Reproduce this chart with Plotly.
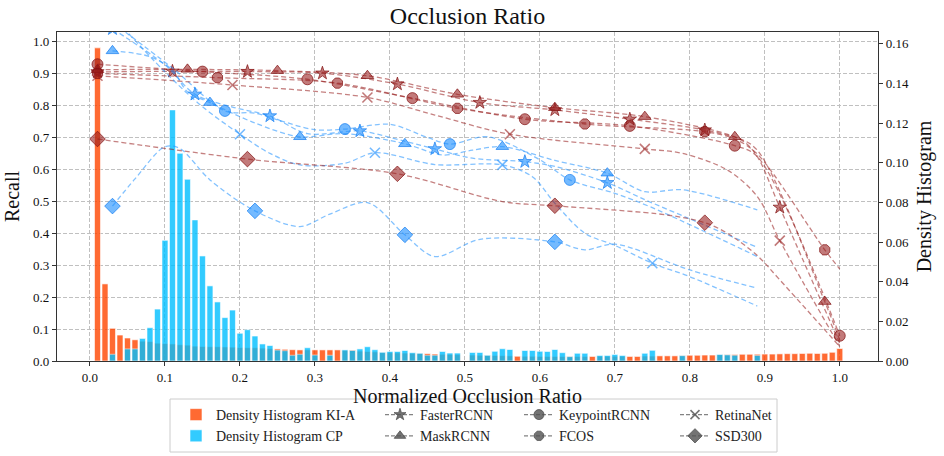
import plotly.graph_objects as go

FONT = "Liberation Serif, Times New Roman, serif"

# ---------------------------------------------------------------
# Density histograms (bin centres 0.01 ... 1.00, width 0.01)
# ---------------------------------------------------------------
bin_centres = [round(0.01 * k, 2) for k in range(1, 101)]

density_kia = [
    0.158, 0.0389, 0.0165, 0.0131, 0.0116, 0.0107, 0.0100, 0.0098, 0.0090, 0.0088,
    0.0086, 0.0082, 0.0080, 0.0075, 0.0073, 0.0072, 0.0072, 0.0071, 0.0070, 0.0068,
    0.0067, 0.0067, 0.0065, 0.0063, 0.0061, 0.0059, 0.0057, 0.0056, 0.0056, 0.0056,
    0.0056, 0.0056, 0.0056, 0.0054, 0.0055, 0.0050, 0.0048, 0.0046, 0.0042, 0.0042,
    0.0041, 0.0040, 0.0039, 0.0038, 0.0037, 0.0035, 0.0034, 0.0033, 0.0032, 0.0,
    0.0030, 0.0029, 0.0028, 0.0028, 0.0027, 0.0026, 0.0024, 0.0024, 0.0024, 0.0023,
    0.0023, 0.0023, 0.0023, 0.0023, 0.0023, 0.0023, 0.0023, 0.0024, 0.0024, 0.0024,
    0.0024, 0.0023, 0.0023, 0.0025, 0.0025, 0.0026, 0.0026, 0.0026, 0.0027, 0.0029,
    0.0029, 0.0030, 0.0030, 0.0031, 0.0032, 0.0033, 0.0034, 0.0034, 0.0034, 0.0035,
    0.0035, 0.0036, 0.0037, 0.0037, 0.0038, 0.0039, 0.0038, 0.0039, 0.0044, 0.0063,
]

density_cp = [
    0.0, 0.0, 0.0034, 0.0, 0.0061, 0.0061, 0.0114, 0.0168, 0.0262, 0.0609,
    0.1267, 0.1048, 0.0917, 0.0712, 0.0530, 0.0379, 0.0298, 0.0219, 0.0257, 0.0140,
    0.0158, 0.0126, 0.0086, 0.0078, 0.0055, 0.0052, 0.0029, 0.0034, 0.0067, 0.0030,
    0.0, 0.0029, 0.0, 0.0056, 0.0053, 0.0061, 0.0072, 0.0057, 0.0044, 0.0048,
    0.0048, 0.0053, 0.0042, 0.0039, 0.0029, 0.0029, 0.0048, 0.0040, 0.0040, 0.0,
    0.0043, 0.0043, 0.0029, 0.0049, 0.0062, 0.0058, 0.0, 0.0053, 0.0053, 0.0049,
    0.0048, 0.0058, 0.0042, 0.0022, 0.0039, 0.0039, 0.0, 0.0028, 0.0028, 0.0033,
    0.0028, 0.0, 0.0, 0.0039, 0.0054, 0.0, 0.0, 0.0, 0.0027, 0.0,
    0.0, 0.0, 0.0, 0.0033, 0.0031, 0.0029, 0.0, 0.0, 0.0028, 0.0,
    0.0, 0.0, 0.0, 0.0, 0.0, 0.0, 0.0, 0.0, 0.0, 0.0,
]

# ---------------------------------------------------------------
# Recall curves on KI-A (red)
# ---------------------------------------------------------------
faster_kia_x = [0.01, 0.11, 0.21, 0.31, 0.41, 0.52, 0.62, 0.72, 0.82, 0.87, 0.89, 0.92, 1.00]
faster_kia_y = [0.905, 0.907, 0.906, 0.901, 0.867, 0.809, 0.786, 0.757, 0.723, 0.690, 0.640, 0.481, 0.055]
faster_kia_marks = [0.01, 0.11, 0.21, 0.31, 0.41, 0.52, 0.62, 0.72, 0.82, 0.92]

mask_kia_x = [0.01, 0.13, 0.25, 0.37, 0.49, 0.62, 0.74, 0.86, 0.89, 0.98, 1.00]
mask_kia_y = [0.912, 0.913, 0.909, 0.893, 0.835, 0.793, 0.765, 0.702, 0.660, 0.186, 0.065]
mask_kia_marks = [0.01, 0.13, 0.25, 0.37, 0.49, 0.62, 0.74, 0.86, 0.98]

keypoint_kia_x = [0.01, 0.15, 0.29, 0.43, 0.58, 0.72, 0.86, 0.89, 1.00]
keypoint_kia_y = [0.929, 0.906, 0.882, 0.823, 0.757, 0.736, 0.674, 0.640, 0.079]
keypoint_kia_marks = [0.01, 0.15, 0.29, 0.43, 0.58, 0.72, 0.86, 1.00]

fcos_kia_x = [0.01, 0.17, 0.33, 0.49, 0.66, 0.82, 0.86, 0.89, 0.98, 1.00]
fcos_kia_y = [0.900, 0.887, 0.870, 0.791, 0.742, 0.718, 0.695, 0.648, 0.348, 0.288]
fcos_kia_marks = [0.01, 0.17, 0.33, 0.49, 0.66, 0.82, 0.98]

retina_kia_x = [0.01, 0.19, 0.37, 0.46, 0.56, 0.74, 0.79, 0.85, 0.89, 0.92, 1.00]
retina_kia_y = [0.893, 0.864, 0.825, 0.770, 0.710, 0.664, 0.650, 0.598, 0.515, 0.377, 0.045]
retina_kia_marks = [0.01, 0.19, 0.37, 0.56, 0.74, 0.92]

ssd_kia_x = [0.01, 0.21, 0.41, 0.55, 0.62, 0.77, 0.82, 0.85, 0.89, 0.92, 1.00]
ssd_kia_y = [0.695, 0.632, 0.586, 0.499, 0.486, 0.457, 0.433, 0.400, 0.330, 0.254, 0.045]
ssd_kia_marks = [0.01, 0.21, 0.41, 0.62, 0.82]

# ---------------------------------------------------------------
# Recall curves on CP (blue)
# ---------------------------------------------------------------
faster_cp_x = [0.03, 0.10, 0.14, 0.19, 0.24, 0.29, 0.36, 0.40, 0.46, 0.51, 0.58, 0.62, 0.69, 0.74, 0.80, 0.89]
faster_cp_y = [1.04, 0.927, 0.835, 0.795, 0.767, 0.712, 0.720, 0.700, 0.664, 0.635, 0.624, 0.609, 0.558, 0.505, 0.445, 0.356]
faster_cp_marks = [0.03, 0.14, 0.24, 0.36, 0.46, 0.58, 0.69]

mask_cp_x = [0.03, 0.08, 0.11, 0.13, 0.16, 0.22, 0.28, 0.34, 0.42, 0.47, 0.51, 0.55, 0.62, 0.69, 0.74, 0.79, 0.89]
mask_cp_y = [0.971, 0.953, 0.911, 0.843, 0.809, 0.745, 0.702, 0.712, 0.680, 0.645, 0.660, 0.671, 0.628, 0.588, 0.530, 0.536, 0.473]
mask_cp_marks = [0.03, 0.16, 0.28, 0.42, 0.55, 0.69]

keypoint_cp_x = [0.03, 0.11, 0.18, 0.22, 0.25, 0.30, 0.34, 0.40, 0.45, 0.48, 0.53, 0.60, 0.64, 0.70, 0.75, 0.89]
keypoint_cp_y = [1.06, 0.917, 0.783, 0.776, 0.755, 0.724, 0.726, 0.741, 0.700, 0.679, 0.702, 0.630, 0.567, 0.525, 0.480, 0.327]
keypoint_cp_marks = [0.03, 0.18, 0.34, 0.48, 0.64]

retina_cp_x = [0.03, 0.10, 0.15, 0.20, 0.24, 0.28, 0.34, 0.38, 0.46, 0.55, 0.59, 0.62, 0.66, 0.70, 0.75, 0.80, 0.89]
retina_cp_y = [1.08, 0.905, 0.796, 0.710, 0.650, 0.614, 0.619, 0.652, 0.615, 0.614, 0.577, 0.494, 0.400, 0.362, 0.306, 0.264, 0.172]
retina_cp_marks = [0.03, 0.20, 0.38, 0.55, 0.75]

ssd_cp_x = [0.03, 0.06, 0.10, 0.12, 0.16, 0.22, 0.28, 0.32, 0.37, 0.42, 0.46, 0.52, 0.62, 0.66, 0.70, 0.80, 0.89]
ssd_cp_y = [0.485, 0.570, 0.671, 0.665, 0.567, 0.470, 0.421, 0.460, 0.496, 0.395, 0.327, 0.381, 0.373, 0.348, 0.366, 0.285, 0.228]
ssd_cp_marks = [0.03, 0.22, 0.42, 0.62]

# ---------------------------------------------------------------
# Styling
# ---------------------------------------------------------------
KIA_LINE = "rgba(150, 25, 25, 0.55)"
KIA_MARK = "rgba(150, 25, 25, 0.58)"
KIA_EDGE = "rgba(130, 15, 15, 0.7)"
CP_LINE = "rgba(30, 144, 255, 0.55)"
CP_MARK = "rgba(30, 144, 255, 0.62)"
CP_EDGE = "rgba(30, 130, 240, 0.75)"
LEG_LINE = "rgba(90, 90, 90, 0.75)"
LEG_MARK = "rgba(80, 80, 80, 0.8)"
DASH = "5px,3px"

models = [
    # name, symbol, size, KI-A series, CP series, legend
    ("FasterRCNN", "star", 10, (faster_kia_x, faster_kia_y, faster_kia_marks),
     (faster_cp_x, faster_cp_y, faster_cp_marks), "legend2"),
    ("MaskRCNN", "triangle-up", 11, (mask_kia_x, mask_kia_y, mask_kia_marks),
     (mask_cp_x, mask_cp_y, mask_cp_marks), "legend2"),
    ("KeypointRCNN", "circle", 11, (keypoint_kia_x, keypoint_kia_y, keypoint_kia_marks),
     (keypoint_cp_x, keypoint_cp_y, keypoint_cp_marks), "legend3"),
    ("FCOS", "octagon", 11, (fcos_kia_x, fcos_kia_y, fcos_kia_marks),
     None, "legend3"),
    ("RetinaNet", "x-thin", 10, (retina_kia_x, retina_kia_y, retina_kia_marks),
     (retina_cp_x, retina_cp_y, retina_cp_marks), "legend4"),
    ("SSD300", "diamond", 12, (ssd_kia_x, ssd_kia_y, ssd_kia_marks),
     (ssd_cp_x, ssd_cp_y, ssd_cp_marks), "legend4"),
]

fig = go.Figure()

# histograms (right axis)
fig.add_trace(go.Bar(
    x=bin_centres, y=[v if v > 0 else None for v in density_kia],
    width=0.008, marker=dict(color="orangered", line=dict(color="white", width=0.6)),
    opacity=0.8, name="Density Histogram KI-A", legend="legend",
    xaxis="x", yaxis="y", hoverinfo="skip",
))
fig.add_trace(go.Bar(
    x=bin_centres, y=[v if v > 0 else None for v in density_cp],
    width=0.008, marker=dict(color="deepskyblue", line=dict(color="white", width=0.6)),
    opacity=0.8, name="Density Histogram CP", legend="legend",
    xaxis="x", yaxis="y", hoverinfo="skip",
))


def marker_style(symbol, size, fill, edge):
    if symbol == "x-thin":
        return dict(symbol=symbol, size=size, color=fill, line=dict(color=fill, width=1.6))
    return dict(symbol=symbol, size=size, color=fill, line=dict(color=edge, width=1))


def add_curve(series, symbol, size, line_color, fill, edge):
    xs, ys, marks = series
    fig.add_trace(go.Scatter(
        x=xs, y=ys, mode="lines", xaxis="x", yaxis="y2",
        line=dict(color=line_color, width=1.3, dash=DASH, shape="spline", smoothing=0.9),
        showlegend=False, hoverinfo="skip",
    ))
    fig.add_trace(go.Scatter(
        x=marks, y=[ys[xs.index(m)] for m in marks], mode="markers",
        xaxis="x", yaxis="y2", marker=marker_style(symbol, size, fill, edge),
        showlegend=False, hoverinfo="skip",
    ))


for name, symbol, size, kia, cp, leg in models:
    add_curve(kia, symbol, size, KIA_LINE, KIA_MARK, KIA_EDGE)
    if cp is not None:
        add_curve(cp, symbol, size, CP_LINE, CP_MARK, CP_EDGE)

# legend entries for the detectors (neutral grey)
for name, symbol, size, kia, cp, leg in models:
    fig.add_trace(go.Scatter(
        x=[None], y=[None], mode="lines+markers", name=name, legend=leg,
        xaxis="x", yaxis="y2",
        line=dict(color=LEG_LINE, width=1.3, dash="4px,2px"),
        marker=marker_style(symbol, size - 1, LEG_MARK, LEG_MARK),
    ))

# ---------------------------------------------------------------
# Layout
# ---------------------------------------------------------------
L, R, T, B = 57, 66, 32, 95
W, H = 944, 456
pw, ph = W - L - R, H - T - B


def px_x(px):
    return (px - L) / pw


def px_y(py):
    return (H - B - py) / ph


legend_common = dict(
    xanchor="left", yanchor="top", orientation="v", bgcolor="rgba(0,0,0,0)",
    font=dict(family=FONT, size=14, color="#222"), tracegroupgap=0, traceorder="normal",
)
legend_top = px_y(399)

axis_line = dict(showline=True, linecolor="#333", linewidth=1.3, mirror=True,
                 ticks="outside", ticklen=4, tickcolor="#333", zeroline=False,
                 automargin=False,
                 tickfont=dict(family=FONT, size=13, color="#111"))
grid = dict(gridcolor="#c0c0c0", griddash="4px,2px", gridwidth=0.8)

fig.update_layout(
    width=W, height=H,
    margin=dict(l=L, r=R, t=T, b=B, autoexpand=False),
    paper_bgcolor="white", plot_bgcolor="white",
    barmode="overlay",
    font=dict(family=FONT, color="#111"),
    title=dict(text="Occlusion Ratio", x=0.5, xref="paper", xanchor="center",
               y=0.966, yref="container", yanchor="middle",
               font=dict(family=FONT, size=24, color="#111")),
    xaxis=dict(range=[-0.044, 1.051], tick0=0, dtick=0.1, tickformat=".1f",
               showgrid=True, **grid, **axis_line,
               title=dict(text="Normalized Occlusion Ratio", standoff=0,
                          font=dict(family=FONT, size=20, color="#111"))),
    yaxis=dict(range=[0, 0.166], tick0=0, dtick=0.02, tickformat=".2f", side="right",
               showgrid=False, **axis_line,
               title=dict(text="Density Histogram", standoff=8,
                          font=dict(family=FONT, size=20, color="#111"))),
    yaxis2=dict(range=[0, 1.03], tick0=0, dtick=0.1, tickformat=".1f", side="left",
                overlaying="y", showgrid=True, **grid, **axis_line,
                title=dict(text="Recall", standoff=8,
                           font=dict(family=FONT, size=20, color="#111"))),
    legend=dict(x=px_x(176), y=legend_top, **legend_common),
    legend2=dict(x=px_x(380), y=legend_top, **legend_common),
    legend3=dict(x=px_x(519), y=legend_top, **legend_common),
    legend4=dict(x=px_x(675), y=legend_top, **legend_common),
    shapes=[dict(type="rect", xref="paper", yref="paper",
                 x0=px_x(170), x1=px_x(777), y0=px_y(452), y1=px_y(399),
                 line=dict(color="#cccccc", width=1), fillcolor="rgba(0,0,0,0)")],
    showlegend=True,
)

fig.write_html("out.html")
